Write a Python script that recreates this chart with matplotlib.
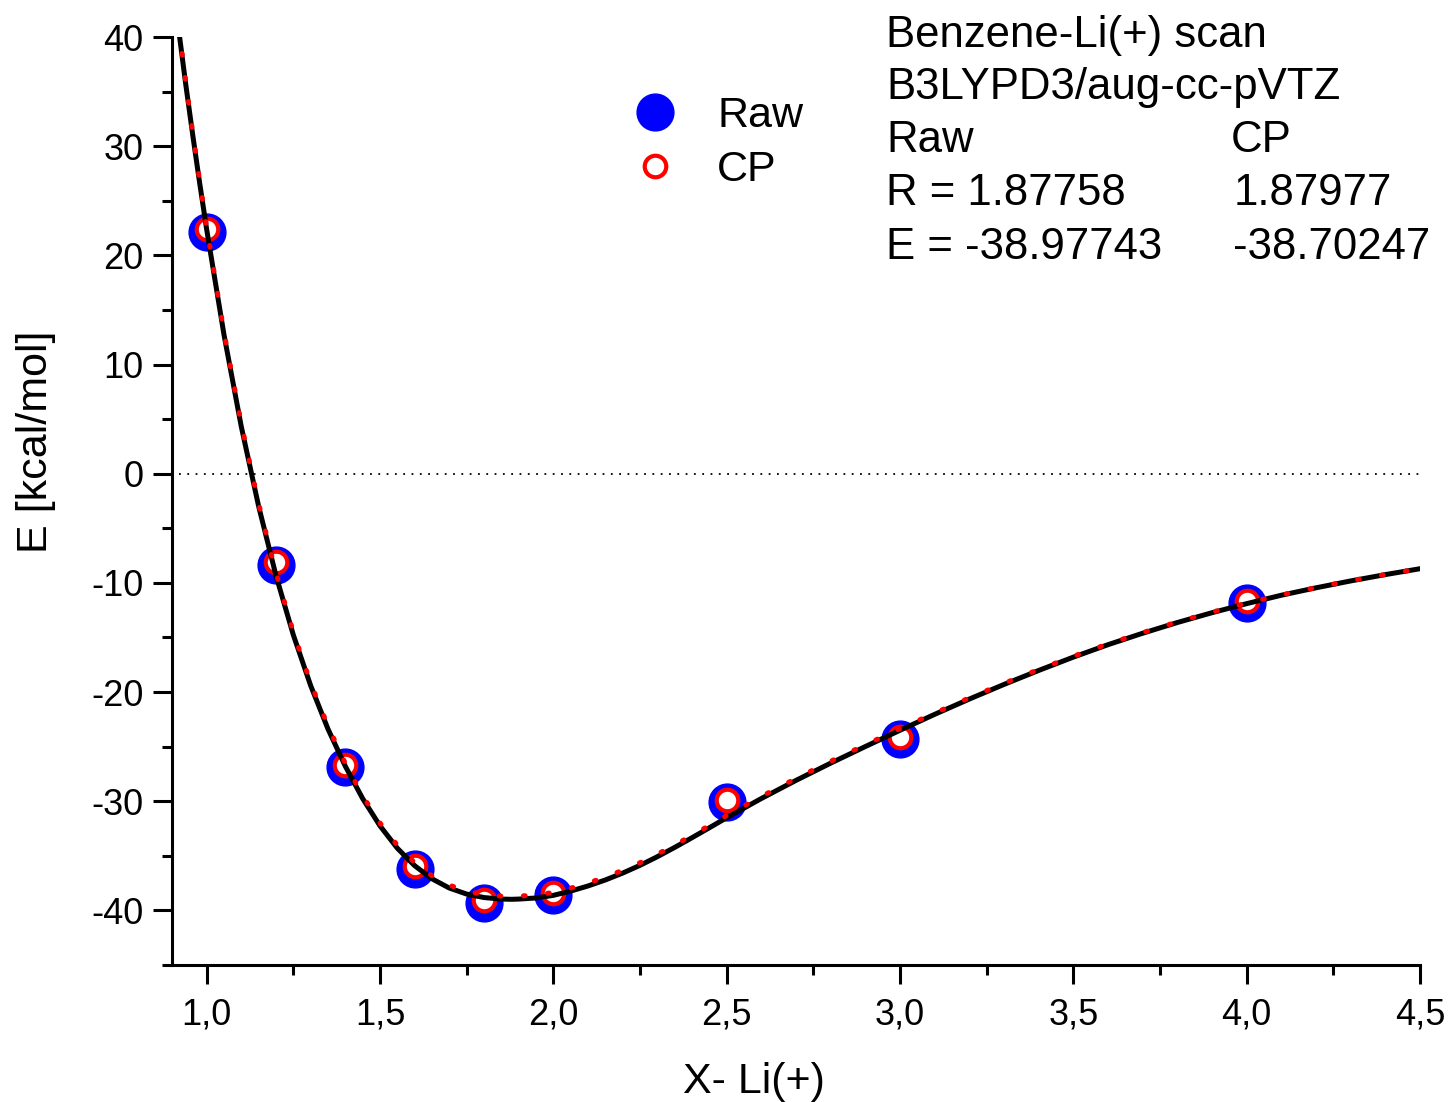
import matplotlib
matplotlib.use("Agg")
import matplotlib.pyplot as plt
from matplotlib.ticker import MultipleLocator, FuncFormatter

plt.rcParams.update({"font.family": "Liberation Sans", "axes.unicode_minus": False})

# scan points, Li+ distance in Angstrom, energies in kcal/mol
r_scan = [1.0, 1.2, 1.4, 1.6, 1.8, 2.0, 2.5, 3.0, 4.0]
e_raw = [22.1, -8.4, -26.9, -36.2, -39.3, -38.6, -30.1, -24.3, -11.8]
e_cp = [22.4, -8.1, -26.7, -35.9, -39.0, -38.4, -29.9, -24.1, -11.7]

# fitted curves
r_fit = [0.92, 0.94, 0.96, 0.98, 1.0, 1.05, 1.1, 1.15, 1.2, 1.25,
         1.3, 1.35, 1.4, 1.45, 1.5, 1.55, 1.6, 1.65, 1.7, 1.75,
         1.8, 1.85, 1.88, 1.9, 1.95, 2.0, 2.05, 2.1, 2.15, 2.2,
         2.25, 2.3, 2.35, 2.4, 2.45, 2.5, 2.6, 2.7, 2.8, 2.9,
         3.0, 3.1, 3.2, 3.3, 3.4, 3.5, 3.6, 3.7, 3.8, 3.9,
         4.0, 4.1, 4.2, 4.3, 4.4, 4.5]
e_fit_raw = [40.5, 35.6, 31.0, 26.6, 22.4, 12.74, 4.31, -2.98, -9.32, -14.76,
             -19.4, -23.38, -26.79, -29.75, -32.25, -34.3, -35.9, -37.1, -37.95, -38.5,
             -38.82, -38.96, -38.98, -38.96, -38.86, -38.62, -38.23, -37.76, -37.21, -36.58,
             -35.87, -35.08, -34.23, -33.34, -32.43, -31.51, -29.75, -28.09, -26.51, -24.99,
             -23.5, -22.04, -20.64, -19.3, -18.02, -16.8, -15.66, -14.61, -13.63, -12.73,
             -11.9, -11.13, -10.45, -9.82, -9.24, -8.7]
e_fit_cp = [40.7, 35.8, 31.2, 26.8, 22.6, 12.97, 4.55, -2.73, -9.07, -14.51,
            -19.15, -23.12, -26.53, -29.49, -31.99, -34.03, -35.63, -36.83, -37.68, -38.23,
            -38.55, -38.69, -38.70, -38.69, -38.59, -38.35, -37.96, -37.49, -36.95, -36.32,
            -35.63, -34.85, -34.01, -33.13, -32.22, -31.31, -29.56, -27.91, -26.34, -24.83,
            -23.35, -21.92, -20.53, -19.2, -17.93, -16.72, -15.59, -14.55, -13.58, -12.68,
            -11.86, -11.1, -10.43, -9.8, -9.23, -8.7]

fig = plt.figure(figsize=(14.5, 11.02), dpi=100)
ax = fig.add_axes([0.1186, 0.1243, 0.8607, 0.8421])

ax.axhline(0, xmin=0.006, color="black", lw=1.3, linestyle=(0, (1, 3.6)), zorder=1)

ax.plot(r_scan, e_raw, "o", ms=26.5, color="blue", mec="blue", linestyle="none",
        label="Raw", zorder=2)
ax.plot(r_scan, e_cp, "o", ms=15.5, mfc="white", mec="red", mew=3.0, linestyle="none",
        label="CP", zorder=3)

ax.plot(r_fit, e_fit_raw, color="black", lw=3.6, zorder=4)
ax.plot(r_fit, e_fit_cp, color="red", lw=3.6, linestyle=(0, (0.35, 4.5)),
        dash_capstyle="round", zorder=5)

ax.set_xlim(0.9, 4.5)
ax.set_ylim(-45, 40)

for side in ["top", "right"]:
    ax.spines[side].set_visible(False)
for side in ["left", "bottom"]:
    ax.spines[side].set_linewidth(2.2)

ax.xaxis.set_major_locator(MultipleLocator(0.5))
ax.xaxis.set_minor_locator(MultipleLocator(0.25))
ax.yaxis.set_major_locator(MultipleLocator(10))
ax.yaxis.set_minor_locator(MultipleLocator(5))
ax.xaxis.set_major_formatter(FuncFormatter(lambda v, p: f"{v:.1f}".replace(".", ",")))
ax.yaxis.set_major_formatter(FuncFormatter(lambda v, p: f"{v:.0f}"))

ax.tick_params(which="major", direction="out", length=13.5, width=2.2, labelsize=26)
ax.tick_params(axis="y", which="major", pad=7)
ax.tick_params(axis="x", which="major", pad=10)
ax.tick_params(which="minor", direction="out", length=7, width=2.2)

ax.set_xlabel("X- Li(+)", fontsize=31)
ax.set_ylabel("E [kcal/mol]", fontsize=31)
ax.xaxis.set_label_coords(0.466, -0.1045)
ax.yaxis.set_label_coords(-0.093, 0.564)

ax.legend(loc="upper left", bbox_to_anchor=(0.4369, 0.9128), bbox_transform=fig.transFigure,
          frameon=False, fontsize=31, handlelength=1.0, handletextpad=0.94,
          labelspacing=0.33, borderpad=0, borderaxespad=0, numpoints=1)

# fit summary
fs = 31.5
fig.text(886 / 1450, 1 - 47 / 1102, "Benzene-Li(+) scan", fontsize=fs, va="baseline")
fig.text(886 / 1450, 1 - 99 / 1102, "B3LYPD3/aug-cc-pVTZ", fontsize=fs, va="baseline")
fig.text(886 / 1450, 1 - 152 / 1102, "Raw", fontsize=fs, va="baseline")
fig.text(1231 / 1450, 1 - 152 / 1102, "CP", fontsize=fs, va="baseline")
fig.text(886 / 1450, 1 - 205 / 1102, "R = 1.87758", fontsize=fs, va="baseline")
fig.text(1234 / 1450, 1 - 205 / 1102, "1.87977", fontsize=fs, va="baseline")
fig.text(886 / 1450, 1 - 259 / 1102, "E = -38.97743", fontsize=fs, va="baseline")
fig.text(1233 / 1450, 1 - 259 / 1102, "-38.70247", fontsize=fs, va="baseline")

fig.savefig("out.png", dpi=100)
